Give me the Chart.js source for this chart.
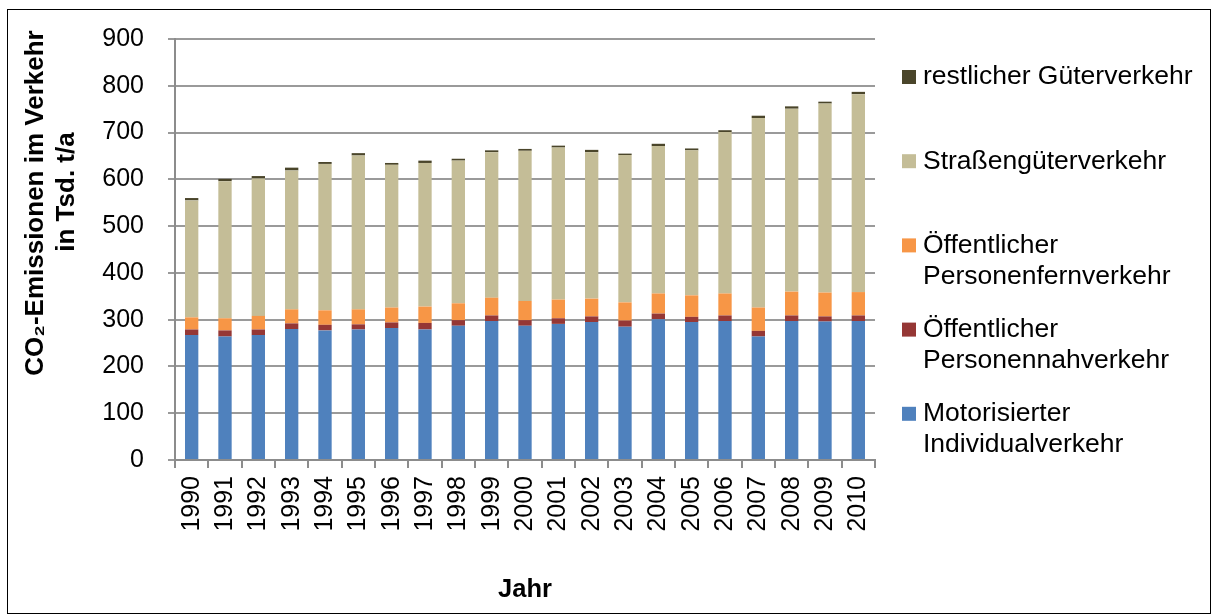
<!DOCTYPE html>
<html>
<head>
<meta charset="utf-8">
<script src="https://cdn.jsdelivr.net/npm/chart.js@4"></script>
<style>
html,body{margin:0;padding:0;background:#fff;}
#wrap{width:1213px;height:616px;position:relative;}
</style>
</head>
<body>
<div id="wrap"><canvas id="c" width="1213" height="616"></canvas></div>
<script>
const years = ['1990','1991','1992','1993','1994','1995','1996','1997','1998','1999','2000','2001','2002','2003','2004','2005','2006','2007','2008','2009','2010'];
const motorisiert = [267,264,267,280,277,279,282,279,287,297,287,291,295,285,301,295,297,264,297,296,297];
const nahverkehr  = [12,13,12,12,12,11,12,14,12,12,12,12,12,13,12,11,12,12,12,11,12];
const fernverkehr = [26,26,29,30,31,32,32,35,36,38,41,40,38,39,43,46,47,50,51,51,50];
const strassengueter = [250,293,294,297,313,329,305,307,305,311,321,325,313,315,315,310,345,405,391,404,423];
const restgueter = [5,5,5,6,4,5,4,5,4,4,4,4,5,3,5,4,4,5,5,4,5];
const yTicks = [0,100,200,300,400,500,600,700,800,900];
const yTitleLines = ['CO₂-Emissionen im Verkehr', 'in Tsd. t/a'];
const xTitle = 'Jahr';
const seriesNames = [
  ['Motorisierter','Individualverkehr'],
  ['Öffentlicher','Personennahverkehr'],
  ['Öffentlicher','Personenfernverkehr'],
  ['Straßengüterverkehr'],
  ['restlicher Güterverkehr']
];
const seriesColors = ['#4F81BD','#953735','#F79646','#C4BD97','#4A452A'];
const seriesData = [motorisiert, nahverkehr, fernverkehr, strassengueter, restgueter];

const FONT = '"Liberation Sans", Arial, sans-serif';

const framePlugin = {
  id: 'frame',
  beforeDraw(chart) {
    const ctx = chart.ctx;
    ctx.save();
    ctx.fillStyle = '#fff';
    ctx.fillRect(0, 0, chart.width, chart.height);
    ctx.strokeStyle = '#000';
    ctx.lineWidth = 1;
    ctx.strokeRect(7.5, 9.5, 1203, 604);
    ctx.restore();
  }
};

const yTitlePlugin = {
  id: 'yTitle',
  afterDraw(chart) {
    const ctx = chart.ctx;
    ctx.save();
    ctx.font = 'bold 26px ' + FONT;
    ctx.fillStyle = '#000';
    ctx.textAlign = 'center';
    ctx.textBaseline = 'middle';
    const pos = [[36, 203], [67, 192]];
    yTitleLines.forEach((t, i) => {
      ctx.save();
      ctx.translate(pos[i][0], pos[i][1]);
      ctx.rotate(-Math.PI / 2);
      ctx.fillText(t, 0, 0);
      ctx.restore();
    });
    ctx.restore();
  }
};

const legendPlugin = {
  id: 'customLegend',
  afterDraw(chart) {
    const ctx = chart.ctx;
    ctx.save();
    ctx.font = '26.5px ' + FONT;
    ctx.textBaseline = 'middle';
    ctx.textAlign = 'left';
    const ds = chart.data.datasets;
    const n = ds.length;
    for (let k = 0; k < n; k++) {
      const d = ds[n - 1 - k];
      const yc = 77 + k * 84.2;
      ctx.fillStyle = d.backgroundColor;
      ctx.fillRect(902, yc - 7, 14, 14);
      ctx.fillStyle = '#000';
      d.legendLines.forEach((t, i) => ctx.fillText(t, 923, yc + i * 31));
    }
    ctx.restore();
  }
};

new Chart(document.getElementById('c'), {
  type: 'bar',
  data: {
    labels: years,
    datasets: seriesData.map((arr, i) => ({
      label: seriesNames[i].join(' '),
      legendLines: seriesNames[i],
      data: arr,
      backgroundColor: seriesColors[i],
      borderWidth: 0,
      barPercentage: 0.4,
      categoryPercentage: 1.0
    }))
  },
  options: {
    responsive: false,
    animation: false,
    devicePixelRatio: 1,
    layout: { padding: { left: 8, right: 338, top: 37, bottom: 6 } },
    plugins: { legend: { display: false }, tooltip: { enabled: false } },
    scales: {
      x: {
        stacked: true,
        offset: true,
        grid: {
          display: true, offset: true, drawOnChartArea: false, drawTicks: true,
          tickLength: 8, color: '#8c8c8c', lineWidth: 2
        },
        border: { display: true, color: '#8c8c8c', width: 2 },
        ticks: {
          minRotation: 90, maxRotation: 90, autoSkip: false,
          padding: 8, color: '#000', font: { family: FONT, size: 25 }
        },
        title: {
          display: true, text: xTitle, color: '#000',
          font: { family: FONT, size: 25.5, weight: 'bold', lineHeight: 1.25 },
          padding: { top: 4, bottom: 4 }
        },
        afterFit(scale) { scale.height = 616 - 460 - 6; }
      },
      y: {
        stacked: true,
        min: 0, max: 900,
        afterBuildTicks(scale) { scale.ticks = yTicks.map(v => ({ value: v })); },
        grid: {
          display: true, drawOnChartArea: true, drawTicks: true,
          tickLength: 7, color: '#9a9a9a', lineWidth: 2
        },
        border: { display: true, color: '#8c8c8c', width: 2 },
        ticks: {
          padding: 24, color: '#000', font: { family: FONT, size: 25 }
        },
        title: { display: false },
        afterFit(scale) { scale.width = 175 - 8; }
      }
    }
  },
  plugins: [framePlugin, yTitlePlugin, legendPlugin]
});
</script>
</body>
</html>
